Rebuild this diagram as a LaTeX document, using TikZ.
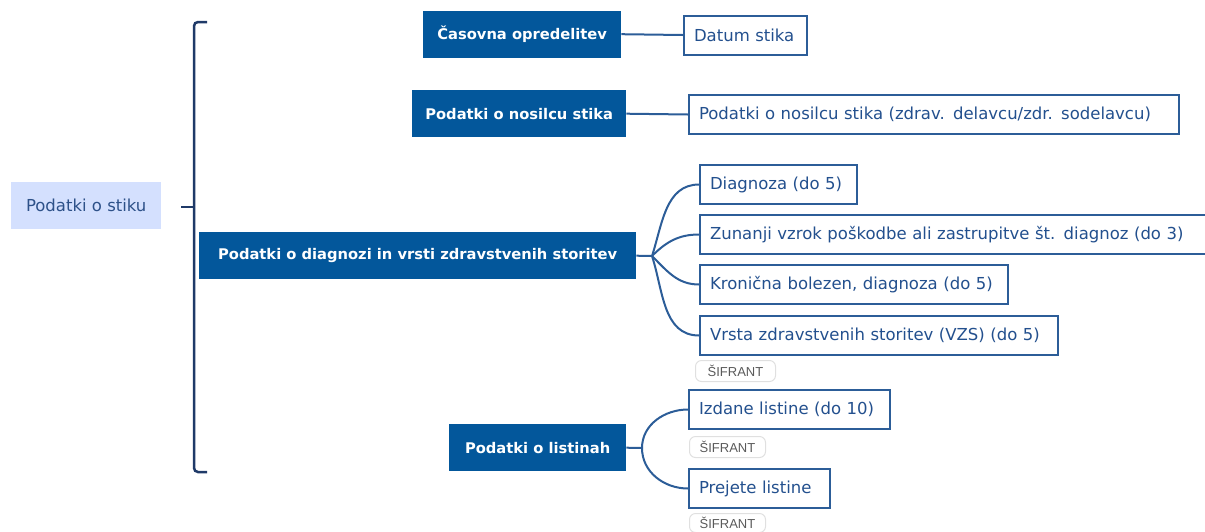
\documentclass[tikz,border=0pt]{standalone}
\usepackage{fontspec}
\setmainfont{DejaVu Sans}
\newfontfamily\tagfont{Liberation Sans}
\definecolor{nodeblue}{HTML}{03579B}
\definecolor{linkblue}{HTML}{2C5D98}
\definecolor{leaftext}{HTML}{23508E}
\definecolor{rootfill}{HTML}{D4E0FE}
\definecolor{roottext}{HTML}{2D5189}
\definecolor{bracketc}{HTML}{1F3A68}
\definecolor{tagborder}{HTML}{E0E0E0}
\definecolor{tagtext}{HTML}{5A5A5A}
\begin{document}
\begin{tikzpicture}[x=1pt,y=-1pt,
  rootbox/.style={fill=rootfill, text=roottext, font=\fontsize{16.5}{20}\selectfont,
    minimum height=47pt, inner sep=0pt, anchor=north west},
  topic/.style={fill=nodeblue, text=white, font=\bfseries\fontsize{14.7}{18}\selectfont,
    minimum height=47pt, inner sep=0pt, anchor=north west},
  leaf/.style={draw=linkblue, line width=2pt, fill=white, text=leaftext,
    font=\fontsize{16.5}{20}\selectfont, inner xsep=10pt, inner ysep=0pt,
    minimum height=39pt, anchor=north west, align=left},
  tag/.style={draw=tagborder, line width=1pt, rounded corners=6pt, text=tagtext,
    font=\tagfont\fontsize{13}{15}\selectfont, minimum height=21pt, inner xsep=0pt,
    inner ysep=0pt, anchor=north west},
  link/.style={draw=linkblue, line width=2pt},
  brk/.style={draw=bracketc, line width=2.5pt}
]
\useasboundingbox (0,0) rectangle (1205,531);
\clip (0,0) rectangle (1205,531);

% root
\node[rootbox, minimum width=150pt] (root) at (11,182) {Podatki o stiku};

% bracket
\coordinate (stub) at (181,207);
\coordinate (bmid) at (194,207);
\coordinate (btop) at (207,22);
\coordinate (bbot) at (207,472);
\draw[brk, rounded corners=4pt] (btop) -- (194,22) -- (194,472) -- (bbot);
\draw[brk] (stub) -- (bmid);

% topics
\node[topic, minimum width=198pt] (cas) at (423,10.5) {Časovna opredelitev};
\node[topic, minimum width=214pt] (nos) at (412,90) {Podatki o nosilcu stika};
\node[topic, minimum width=437pt] (diag) at (199,232) {Podatki o diagnozi in vrsti zdravstvenih storitev};
\node[topic, minimum width=177pt] (list) at (449,424) {Podatki o listinah};

% leaves
\node[leaf, text width=103pt] (datum) at (683,14.5) {Datum stika};
\node[leaf, text width=470pt] (nosl) at (688,94) {Podatki o nosilcu stika (zdrav. delavcu/zdr. sodelavcu)};
\node[leaf, text width=137pt] (d1) at (699,164) {Diagnoza (do 5)};
\node[leaf, text width=510pt] (d2) at (699,214) {Zunanji vzrok poškodbe ali zastrupitve št. diagnoz (do 3)};
\node[leaf, text width=288pt] (d3) at (699,264) {Kronična bolezen, diagnoza (do 5)};
\node[leaf, text width=338pt] (d4) at (699,315) {Vrsta zdravstvenih storitev (VZS) (do 5)};
\node[leaf, text width=181pt] (l1) at (688,389) {Izdane listine (do 10)};
\node[leaf, text width=121pt] (l2) at (688,468) {Prejete listine};

% tags
\node[tag, minimum width=80pt] (s1) at (695,360) {ŠIFRANT};
\node[tag, minimum width=76pt] (s2) at (689,436) {ŠIFRANT};
\node[tag, minimum width=76pt, minimum height=19pt] (s3) at (689,513) {ŠIFRANT};

% connectors
\draw[link] (cas.east) -- (datum.west);
\draw[link] (nos.east) -- (nosl.west);

\coordinate (dj) at (652,256);
\draw[link] (diag.east) -- (dj);
\draw[link] (dj) to[out=72, in=180] (d1.west);
\draw[link] (dj) to[out=45, in=180] (d2.west);
\draw[link] (dj) to[out=-45, in=180] (d3.west);
\draw[link] (dj) to[out=-72, in=180] (d4.west);

\coordinate (lj) at (642,448);
\draw[link] (list.east) -- (lj);
\draw[link] (lj) to[out=90, in=180] (l1.west);
\draw[link] (lj) to[out=-90, in=180] (l2.west);
\end{tikzpicture}
\end{document}
